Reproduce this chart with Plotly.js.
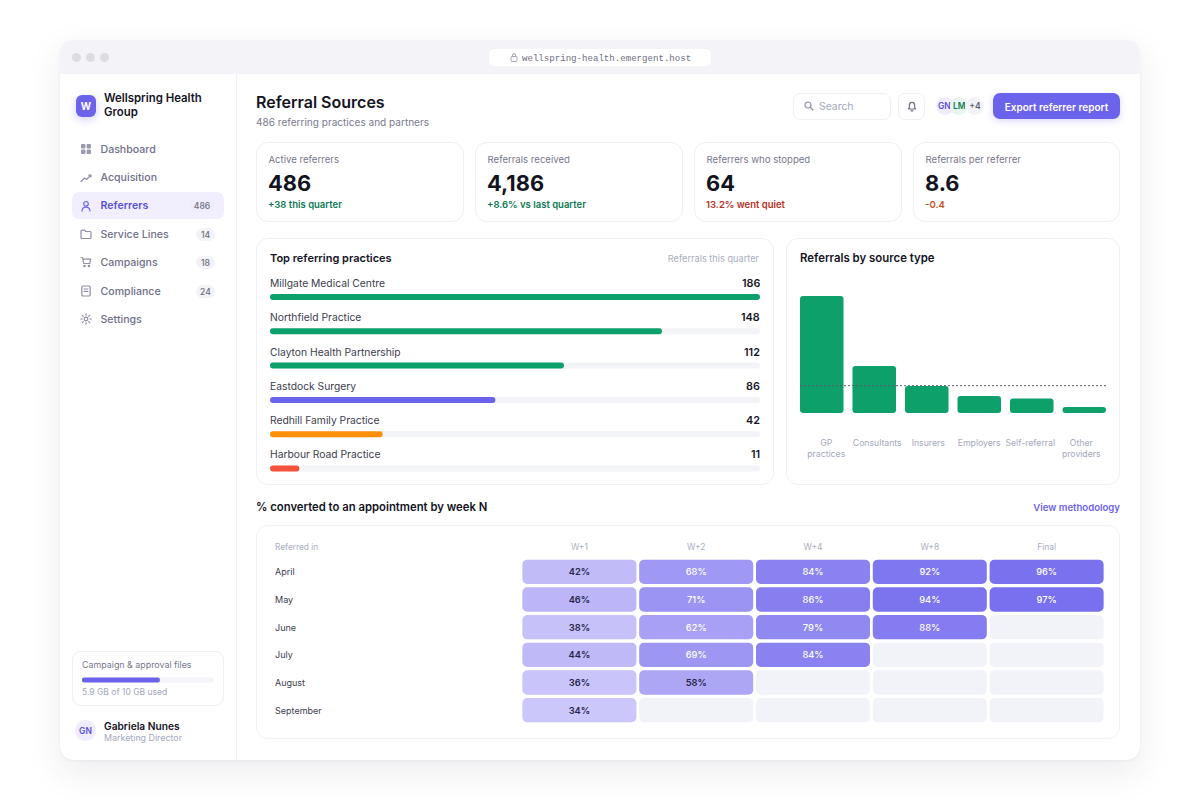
<!DOCTYPE html>
<html><head><meta charset="utf-8">
<script src="https://cdn.plot.ly/plotly-3.0.1.min.js"></script>
<style>
html,body{margin:0;padding:0;background:#fff;width:1200px;height:800px;overflow:hidden;font-family:Inter,sans-serif}
#win{position:absolute;left:60px;top:40px;width:1080px;height:720px;border-radius:14px;background:#fff;box-shadow:0 12px 36px rgba(40,40,80,.09),0 1px 3px rgba(40,40,80,.05)}
#bar{position:absolute;left:60px;top:40px;width:1080px;height:34px;background:#F3F3F8;border-radius:14px 14px 0 0}
.t{position:absolute;transform:translateY(-50%);white-space:nowrap;line-height:1.2}
.b{position:absolute;box-sizing:border-box}
.card{position:absolute;box-sizing:border-box;background:#fff;border:1px solid #EFEFF5;border-radius:12px}
.plot{position:absolute}
svg.i{position:absolute;fill:none;stroke:#8F8FA6;stroke-width:1.2;stroke-linecap:round;stroke-linejoin:round}
</style></head><body>
<div id="win"></div><div id="bar"></div>
<div class="b" style="left:236px;top:74px;width:1px;height:686px;background:#F0F0F5"></div>
<div class="b" style="left:72px;top:53px;width:9px;height:9px;border-radius:50%;background:#DCDCE3"></div>
<div class="b" style="left:86px;top:53px;width:9px;height:9px;border-radius:50%;background:#DCDCE3"></div>
<div class="b" style="left:100px;top:53px;width:9px;height:9px;border-radius:50%;background:#DCDCE3"></div>
<div class="b" style="left:489px;top:49px;width:222px;height:17px;border-radius:5px;background:#fff"></div>
<svg class="i" style="left:510px;top:53px;stroke:#A5A5B5;stroke-width:1" width="8" height="9" viewBox="0 0 8 9"><rect x="1" y="3.5" width="6" height="5" rx="1"/><path d="M2.5 3.5V2a1.5 1.5 0 0 1 3 0v1.5"/></svg>
<div class="t" style="left:522px;top:58px;font:9.1px 'Liberation Mono',monospace;color:#6E6E80">wellspring-health.emergent.host</div>

<div class="b" style="left:76px;top:95px;width:20px;height:22px;border-radius:6px;background:#6C63EC;box-shadow:0 3px 8px rgba(108,99,236,.28)"></div>
<div class="t" style="left:76px;width:20px;text-align:center;top:106px;font-size:10px;font-weight:700;color:#fff">W</div>
<div class="t" style="left:104px;top:98.5px;font-size:11.4px;font-weight:600;color:#14141F">Wellspring Health</div>
<div class="t" style="left:104px;top:112.5px;font-size:11.4px;font-weight:600;color:#14141F">Group</div>
<div class="b" style="left:72px;top:192px;width:152px;height:27px;border-radius:7px;background:#F1EFFD"></div>
<div id="nav"></div>

<div class="card" style="left:72px;top:651px;width:152px;height:55px;border-radius:9px"></div>
<div class="t" style="left:82px;top:665px;font-size:8.9px;color:#77778C">Campaign &amp; approval files</div>
<div class="plot" id="storage" style="left:82px;top:675px;width:132px;height:8px"></div>
<div class="t" style="left:82px;top:692px;font-size:8.5px;color:#A3A8BC">5.9 GB of 10 GB used</div>
<div class="b" style="left:75px;top:720px;width:21px;height:21px;border-radius:50%;background:#EFEDFC"></div>
<div class="t" style="left:75px;width:21px;text-align:center;top:731px;font-size:8.5px;font-weight:600;color:#5A50D8">GN</div>
<div class="t" style="left:104px;top:726px;font-size:10.2px;font-weight:600;color:#14141F">Gabriela Nunes</div>
<div class="t" style="left:104px;top:738px;font-size:8.9px;color:#A3A8BC">Marketing Director</div>

<div class="t" style="left:256px;top:103px;font-size:16px;font-weight:600;color:#14141F">Referral Sources</div>
<div class="t" style="left:256px;top:121.5px;font-size:10.05px;color:#7A7A90">486 referring practices and partners</div>

<div class="b" style="left:793px;top:93px;width:98px;height:27px;border:1px solid #EFEFF5;border-radius:7px;background:#fff"></div>
<svg class="i" style="left:804px;top:101px;stroke:#8F8FA6" width="10" height="10" viewBox="0 0 10 10"><circle cx="4" cy="4" r="3"/><path d="M6.5 6.5L9 9"/></svg>
<div class="t" style="left:819px;top:106.5px;font-size:10.4px;color:#A3A8BC">Search</div>
<div class="b" style="left:898px;top:93px;width:27px;height:27px;border:1px solid #EFEFF5;border-radius:7px;background:#fff"></div>
<svg class="i" style="left:907px;top:101px;stroke:#6E6E80" width="10" height="11" viewBox="0 0 10 11"><path d="M1.5 8h7L7.6 6.5V4a2.6 2.6 0 0 0-5.2 0v2.5zM4 9.8h2"/></svg>
<div class="b" style="left:936px;top:97px;width:18px;height:18px;border-radius:50%;background:#EFEDFC"></div>
<div class="t" style="left:938px;width:13px;overflow:hidden;top:106px;font-size:8.5px;font-weight:600;color:#5A50D8">GN</div>
<div class="b" style="left:950px;top:97px;width:18px;height:18px;border-radius:50%;background:#E8F5EF"></div>
<div class="t" style="left:953px;width:12px;overflow:hidden;top:106px;font-size:8.5px;font-weight:600;color:#0E7A55">LM</div>
<div class="b" style="left:966px;top:97px;width:18px;height:18px;border-radius:50%;background:#F3F3F7"></div>
<div class="t" style="left:966px;width:18px;text-align:center;top:106px;font-size:8.5px;font-weight:600;color:#5E5E70">+4</div>
<div class="b" style="left:993px;top:93px;width:127px;height:26px;border-radius:7px;background:#6C63EC;box-shadow:0 2px 7px rgba(108,99,236,.25)"></div>
<div class="t" style="left:993px;width:127px;text-align:center;top:106.5px;font-size:10px;font-weight:600;color:#fff">Export referrer report</div>

<div id="kpis"></div>

<div class="card" style="left:256px;top:238px;width:518px;height:247px"></div>
<div class="t" style="left:270px;top:258.5px;font-size:11px;font-weight:600;color:#14141F">Top referring practices</div>
<div class="t" style="right:441px;top:258.5px;font-size:9.2px;color:#A9ADBE">Referrals this quarter</div>
<div class="plot" id="practices" style="left:270px;top:276px;width:490px;height:206px"></div>

<div class="card" style="left:786px;top:238px;width:334px;height:247px"></div>
<div class="t" style="left:800px;top:258.5px;font-size:11.4px;font-weight:600;color:#14141F">Referrals by source type</div>
<div class="plot" id="sources" style="left:787px;top:280px;width:332px;height:200px"></div>

<div class="t" style="left:256px;top:507.5px;font-size:11.3px;font-weight:600;color:#14141F">% converted to an appointment by week N</div>
<div class="t" style="right:80px;top:507.5px;font-size:9.6px;font-weight:600;color:#6C63EC">View methodology</div>
<div class="card" style="left:256px;top:525px;width:864px;height:214px"></div>
<div class="plot" id="heat" style="left:257px;top:526px;width:862px;height:212px"></div>

<script>
// ---- chart data ----
const navLabels=["Dashboard","Acquisition","Referrers","Service Lines","Campaigns","Compliance","Settings"];
const navBadges=[null,null,"486","14","18","24",null];
const kpiLabels=["Active referrers","Referrals received","Referrers who stopped","Referrals per referrer"];
const kpiValues=["486","4,186","64","8.6"];
const kpiNotes=["+38 this quarter","+8.6% vs last quarter","13.2% went quiet","-0.4"];
const kpiNoteKinds=["good","good","bad","warn"];

const practiceNames=["Millgate Medical Centre","Northfield Practice","Clayton Health Partnership","Eastdock Surgery","Redhill Family Practice","Harbour Road Practice"];
const practiceValues=[186,148,112,86,42,11];
const practiceBarShare=[100,80,60,46,23,6];
const practiceColors=["#0EA06A","#0EA06A","#0EA06A","#6C63EC","#FF8F0A","#F5523C"];

const sourceLabels=["GP<br>practices","Consultants","Insurers","Employers","Self-referral","Other<br>providers"];
const sourceValues=[2140,860,495,312,267,112];
const sourceReference=[500];

const cohortMonths=["April","May","June","July","August","September"];
const weekLabels=["W+1","W+2","W+4","W+8","Final"];
const weekPlus1=[42,46,38,44,36,34];
const weekPlus2=[68,71,62,69,58,null];
const weekPlus4=[84,86,79,84,null,null];
const weekPlus8=[92,94,88,null,null,null];
const weekFinal=[96,97,null,null,null,null];
const storageUsed=[5.9];
const storageTotal=[10];

// ---- page chrome ----
const F="Inter, sans-serif";
const cfg={displayModeBar:false,staticPlot:true};
const icons=[
 '<rect x="1" y="1" width="4.4" height="4.4" rx="1" fill="#9A9AB0" stroke="none"/><rect x="6.6" y="1" width="4.4" height="4.4" rx="1" fill="#9A9AB0" stroke="none"/><rect x="1" y="6.6" width="4.4" height="4.4" rx="1" fill="#9A9AB0" stroke="none"/><rect x="6.6" y="6.6" width="4.4" height="4.4" rx="1" fill="#9A9AB0" stroke="none"/>',
 '<path d="M1 9.5L4.5 6l2 1.5L11 3M8.5 3H11v2"/>',
 '<circle cx="6" cy="3.8" r="2.3"/><path d="M2 11c.3-2.6 2-3.8 4-3.8s3.7 1.2 4 3.8"/>',
 '<path d="M1 3.2c0-.6.4-1 1-1h2.6l1.2 1.3H10c.6 0 1 .4 1 1v5c0 .6-.4 1-1 1H2c-.6 0-1-.4-1-1z"/>',
 '<path d="M1 1.5h1.5l1.2 6h6l1-4.3H3"/><circle cx="4.5" cy="10" r=".7"/><circle cx="9" cy="10" r=".7"/>',
 '<rect x="1.8" y="1" width="8.4" height="10" rx="1.3"/><path d="M4 4h4M4 6.3h4"/>',
 '<circle cx="6" cy="6" r="1.8"/><path d="M6 .8v1.4M6 9.8v1.4M.8 6h1.4M9.8 6h1.4M2.3 2.3l1 1M8.7 8.7l1 1M2.3 9.7l1-1M8.7 3.3l1-1"/>'
];
const navTop=[149,177.5,205.5,234,262,291,319];
let nav="";
navLabels.forEach((n,i)=>{
  const act=i===2, c=act?"#5A50D8":"#70708A";
  nav+=`<svg class="i" style="left:80px;top:${navTop[i]-6}px;${act?'stroke:#6C63EC':''}" width="12" height="12" viewBox="0 0 12 12">${icons[i]}</svg>`;
  nav+=`<div class="t" style="left:100.5px;top:${navTop[i]+0.6}px;font-size:10.6px;font-weight:${act?600:500};color:${c}">${n}</div>`;
  if(navBadges[i]){const w=navBadges[i].length>2?26:19;
    nav+=`<div class="b" style="left:${215-w}px;top:${navTop[i]-6.5}px;width:${w}px;height:13px;border-radius:7px;background:${act?'#EFEDFC':'#F3F3F7'}"></div>`;
    nav+=`<div class="t" style="left:${215-w}px;width:${w}px;text-align:center;top:${navTop[i]+0.5}px;font-size:8.6px;font-weight:500;color:#6E6E80">${navBadges[i]}</div>`;}
});
document.getElementById("nav").innerHTML=nav;
const kpiLeft=[256,475,694,913], noteCol={good:"#0E7A55",bad:"#B8301E",warn:"#C2521C"};
let k="";
kpiLabels.forEach((l,i)=>{const x=kpiLeft[i];
  k+=`<div class="card" style="left:${x}px;top:142px;width:${i===3?207:208}px;height:80px"></div>`;
  k+=`<div class="t" style="left:${x+12.5}px;top:159.8px;font-size:9.6px;color:#77778C">${l}</div>`;
  k+=`<div class="t" style="left:${x+12}px;top:183px;font-size:21.8px;font-weight:700;color:#14141F">${kpiValues[i]}</div>`;
  k+=`<div class="t" style="left:${x+12}px;top:205.3px;font-size:9.5px;font-weight:600;color:${noteCol[kpiNoteKinds[i]]}">${kpiNotes[i]}</div>`;
});
document.getElementById("kpis").innerHTML=k;

// ---- top practices: horizontal bars on a value axis ----
const annP=[];
const zeros=a=>a.map(()=>0);
practiceNames.forEach((n,i)=>{
  annP.push({x:0,y:n,xref:"x",yref:"y",yshift:14,xshift:-2,xanchor:"left",yanchor:"middle",showarrow:false,text:n,font:{family:F,size:10.3,color:"#3D3D4E"}});
  annP.push({x:100,y:n,xref:"x",yref:"y",yshift:13.5,xshift:2,xanchor:"right",yanchor:"middle",showarrow:false,text:String(practiceValues[i]),font:{family:F,size:10.8,weight:600,color:"#14141F"}});
});
Plotly.newPlot("practices",[
 {type:"bar",orientation:"h",y:practiceNames,x:practiceNames.map(()=>100),base:zeros(practiceNames),marker:{color:"#F3F4F8",cornerradius:3},hoverinfo:"skip"},
 {type:"bar",orientation:"h",y:practiceNames,x:practiceBarShare,base:zeros(practiceNames),customdata:practiceValues,marker:{color:practiceColors,cornerradius:3}}
],{barmode:"overlay",bargap:0.825,showlegend:false,paper_bgcolor:"rgba(0,0,0,0)",plot_bgcolor:"rgba(0,0,0,0)",
 margin:{l:0,r:0,t:0,b:0},annotations:annP,
 xaxis:{range:[0,100],visible:false,fixedrange:true},
 yaxis:{type:"category",categoryorder:"array",categoryarray:practiceNames,autorange:false,range:[5.394,-0.612],visible:false,fixedrange:true}
},cfg);

// ---- source type bars ----
const srcX=sourceValues.map((_,i)=>i);
const barPitch=52.5, labelPitch=51, firstLabelShift=4.5;
Plotly.newPlot("sources",[
 {type:"bar",x:srcX,y:sourceValues,base:zeros(srcX),marker:{color:"#0EA06A",cornerradius:3},width:0.829}
],{showlegend:false,paper_bgcolor:"rgba(0,0,0,0)",plot_bgcolor:"rgba(0,0,0,0)",
 margin:{l:13,r:13,t:10,b:67},
 font:{family:F},
 xaxis:{range:[-0.414,5.414],tickmode:"array",tickvals:srcX.map(i=>(firstLabelShift+i*(labelPitch-barPitch))/barPitch+i),ticktext:sourceLabels,
   tickfont:{family:F,size:8.7,color:"#A3A8BC"},ticklen:0,ticklabelstandoff:23,showline:false,showgrid:false,zeroline:false,tickangle:0,automargin:false,fixedrange:true},
 yaxis:{range:[0,sourceValues[0]*123/117],visible:false,fixedrange:true},
 shapes:[{type:"line",xref:"paper",yref:"y",x0:0,x1:1,y0:sourceReference[0],y1:sourceReference[0],line:{color:"#55606A",width:1,dash:"2px,2px"}}]
},cfg);

// ---- conversion cohort grid ----
const weeks=[weekPlus1,weekPlus2,weekPlus4,weekPlus8,weekFinal];
const CS=[[0,"#CCC7FA"],[1,"#7870EE"]];
const heatTraces=[];
weeks.forEach((vals,c)=>{
  heatTraces.push({type:"bar",orientation:"h",y:cohortMonths,x:cohortMonths.map(()=>0.976),base:cohortMonths.map(()=>c+0.012),
    marker:{color:"#F2F3F8"},hoverinfo:"skip"});
});
weeks.forEach((vals,c)=>{
  const idx=vals.map((v,i)=>v==null?-1:i).filter(i=>i>=0);
  heatTraces.push({type:"bar",orientation:"h",y:idx.map(i=>cohortMonths[i]),x:idx.map(()=>0.976),base:idx.map(()=>c+0.012),
    marker:{color:idx.map(i=>vals[i]),colorscale:CS,cmin:34,cmax:97,showscale:false},
    text:idx.map(i=>vals[i]+"%"),textposition:"inside",insidetextanchor:"middle",textangle:0,constraintext:"none",
    textfont:{family:F,size:9.3,weight:idx.map(i=>vals[i]>=60?500:600),color:idx.map(i=>vals[i]>=60?"#FFFFFF":"#26264A")}});
});
const plotL=520.6-257, plotW=584;
const annH=cohortMonths.map(m=>({xref:"paper",yref:"y",x:(273-520.6)/plotW,y:m,xanchor:"left",yanchor:"middle",showarrow:false,text:m,font:{family:F,size:9,color:"#3D3D4E"}}));
annH.push({xref:"paper",yref:"paper",x:(273-520.6)/plotW,y:1,yshift:11.5,xanchor:"left",yanchor:"middle",showarrow:false,text:"Referred in",font:{family:F,size:8.3,color:"#A9ADBE"}});
Plotly.newPlot("heat",heatTraces,{barmode:"overlay",bargap:0.12,barcornerradius:5,showlegend:false,paper_bgcolor:"rgba(0,0,0,0)",plot_bgcolor:"rgba(0,0,0,0)",
 margin:{l:plotL,r:862-plotL-plotW,t:32.4,b:212-32.4-165.6},annotations:annH,
 xaxis:{side:"top",range:[0,5],tickmode:"array",tickvals:weekLabels.map((_,i)=>i+0.5),ticktext:weekLabels,ticklen:0,ticklabelstandoff:5,
   tickfont:{family:F,size:8.5,color:"#A9ADBE"},showgrid:false,zeroline:false,showline:false,fixedrange:true},
 yaxis:{type:"category",categoryorder:"array",categoryarray:cohortMonths,autorange:false,range:[5.5,-0.5],visible:false,fixedrange:true}
},cfg);

// ---- storage meter ----
Plotly.newPlot("storage",[
 {type:"bar",orientation:"h",y:["used"],x:storageTotal,base:[0],marker:{color:"#F3F3F8",cornerradius:2},hoverinfo:"skip"},
 {type:"bar",orientation:"h",y:["used"],x:storageUsed,base:[0],marker:{color:"#6C63EC",cornerradius:2}}
],{barmode:"overlay",bargap:0.5,showlegend:false,paper_bgcolor:"rgba(0,0,0,0)",plot_bgcolor:"rgba(0,0,0,0)",
 margin:{l:0,r:0,t:0,b:0},xaxis:{range:[0,storageTotal[0]],visible:false},yaxis:{visible:false}},cfg);
</script>
</body></html>
